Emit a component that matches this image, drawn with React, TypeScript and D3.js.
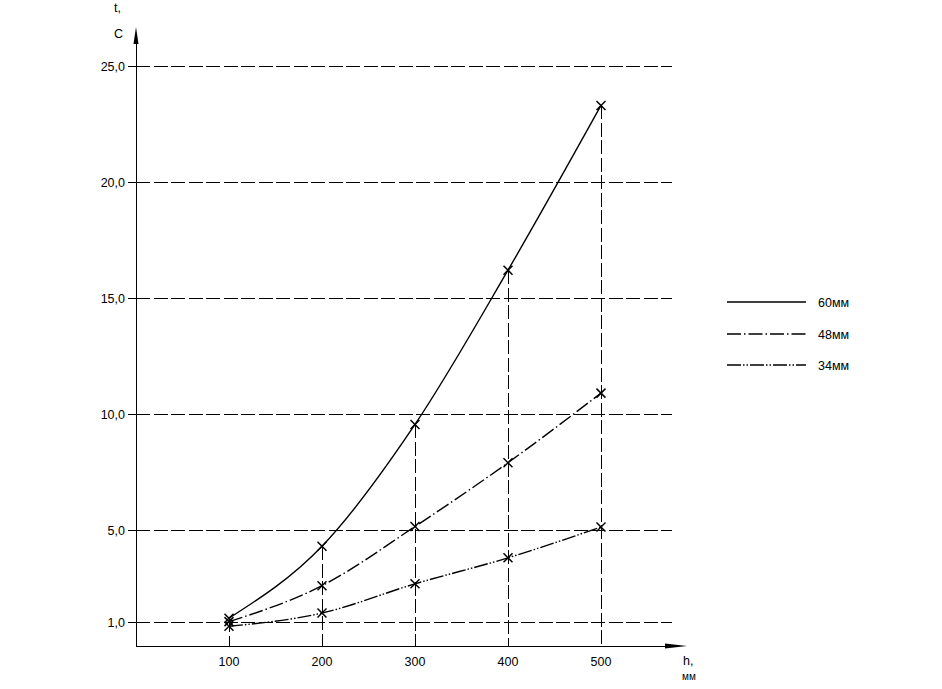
import React from "react";
import * as d3 from "d3";

const hValues = [100, 200, 300, 400, 500];
const series60 = [1.2, 4.3, 9.55, 16.2, 23.3];
const series48 = [1.05, 2.6, 5.15, 7.9, 10.9];
const series34 = [0.85, 1.42, 2.68, 3.8, 5.13];
const seriesNames = ["60мм", "48мм", "34мм"];
const yTicks = [1, 5, 10, 15, 20, 25];
const yTickLabels = ["1,0", "5,0", "10,0", "15,0", "20,0", "25,0"];
const xTickLabels = ["100", "200", "300", "400", "500"];

const dashes = ["none", "14,3,1.5,3", "14,2,1.5,2,1.5,2"];

export default function App() {
  const W = 942, H = 689;
  const x = d3.scaleLinear().domain([0, 500]).range([136, 601]);
  const y = d3.scaleLinear().domain([0, 25]).range([646, 66]);
  const all = [series60, series48, series34];
  const line = d3
    .line<number>()
    .x((_, i) => x(hValues[i]))
    .y((d) => y(d))
    .curve(d3.curveMonotoneX);
  const font = "'Liberation Sans', Arial, sans-serif";
  const cross = (cx: number, cy: number, k: string) => (
    <g key={k} stroke="#000" strokeWidth={1.5}>
      <line x1={cx - 4.5} y1={cy - 4.5} x2={cx + 4.5} y2={cy + 4.5} />
      <line x1={cx - 4.5} y1={cy + 4.5} x2={cx + 4.5} y2={cy - 4.5} />
    </g>
  );
  return (
    <svg
      width={W}
      height={H}
      style={{ position: "absolute", left: 0, top: 0, background: "#fff" }}
      fontFamily={font}
    >
      <rect width={W} height={H} fill="#fff" />
      <g shapeRendering="crispEdges">
        {yTicks.map((t, i) => (
          <g key={"g" + i}>
            <line x1={128} x2={136} y1={y(t)} y2={y(t)} stroke="#000" strokeWidth={1} />
            <line
              x1={136}
              x2={672}
              y1={y(t)}
              y2={y(t)}
              stroke="#000"
              strokeWidth={1}
              strokeDasharray="14,3.5"
            />
          </g>
        ))}
        {hValues.map((h, i) => {
          const top = Math.max(...all.map((s) => s[i]));
          return (
            <line
              key={"v" + i}
              x1={x(h)}
              x2={x(h)}
              y1={y(top)}
              y2={y(0)}
              stroke="#000"
              strokeWidth={1}
              strokeDasharray="14,3.5"
            />
          );
        })}
        <line x1={136} x2={670} y1={y(0)} y2={y(0)} stroke="#000" strokeWidth={1} />
        <line x1={136} x2={136} y1={y(0)} y2={40} stroke="#000" strokeWidth={1} />
      </g>
      {yTicks.map((t, i) => (
        <text key={"yt" + i} x={125} y={y(t) + 4.5} fontSize={12.5} textAnchor="end">
          {yTickLabels[i]}
        </text>
      ))}
      {hValues.map((h, i) => (
        <text key={"xt" + i} x={x(h)} y={666} fontSize={12.5} textAnchor="middle">
          {xTickLabels[i]}
        </text>
      ))}
      <path d={`M${687},${y(0)} L${665},${y(0) - 2.5} L${665},${y(0) + 2.5} Z`} fill="#000" />
      <path d={`M136,27 L133.5,44 L138.5,44 Z`} fill="#000" />
      <text x={114} y={12} fontSize={12.5}>t,</text>
      <text x={114} y={38} fontSize={12.5}>С</text>
      <text x={683} y={665} fontSize={12.5}>h,</text>
      <text x={682} y={680} fontSize={10}>мм</text>
      {all.map((s, si) => (
        <path
          key={"s" + si}
          d={line(s) || ""}
          fill="none"
          stroke="#000"
          strokeWidth={1.4}
          strokeDasharray={dashes[si]}
        />
      ))}
      {all.map((s, si) => s.map((v, i) => cross(x(hValues[i]), y(v), `m${si}-${i}`)))}
      {seriesNames.map((n, i) => {
        const ly = [302, 334, 365][i];
        return (
          <g key={"l" + i}>
            <line
              x1={727}
              x2={806}
              y1={ly}
              y2={ly}
              stroke="#000"
              strokeWidth={1.5}
              strokeDasharray={dashes[i]}
            />
            <text x={818} y={ly + 4.5} fontSize={12.5}>
              {n}
            </text>
          </g>
        );
      })}
    </svg>
  );
}
